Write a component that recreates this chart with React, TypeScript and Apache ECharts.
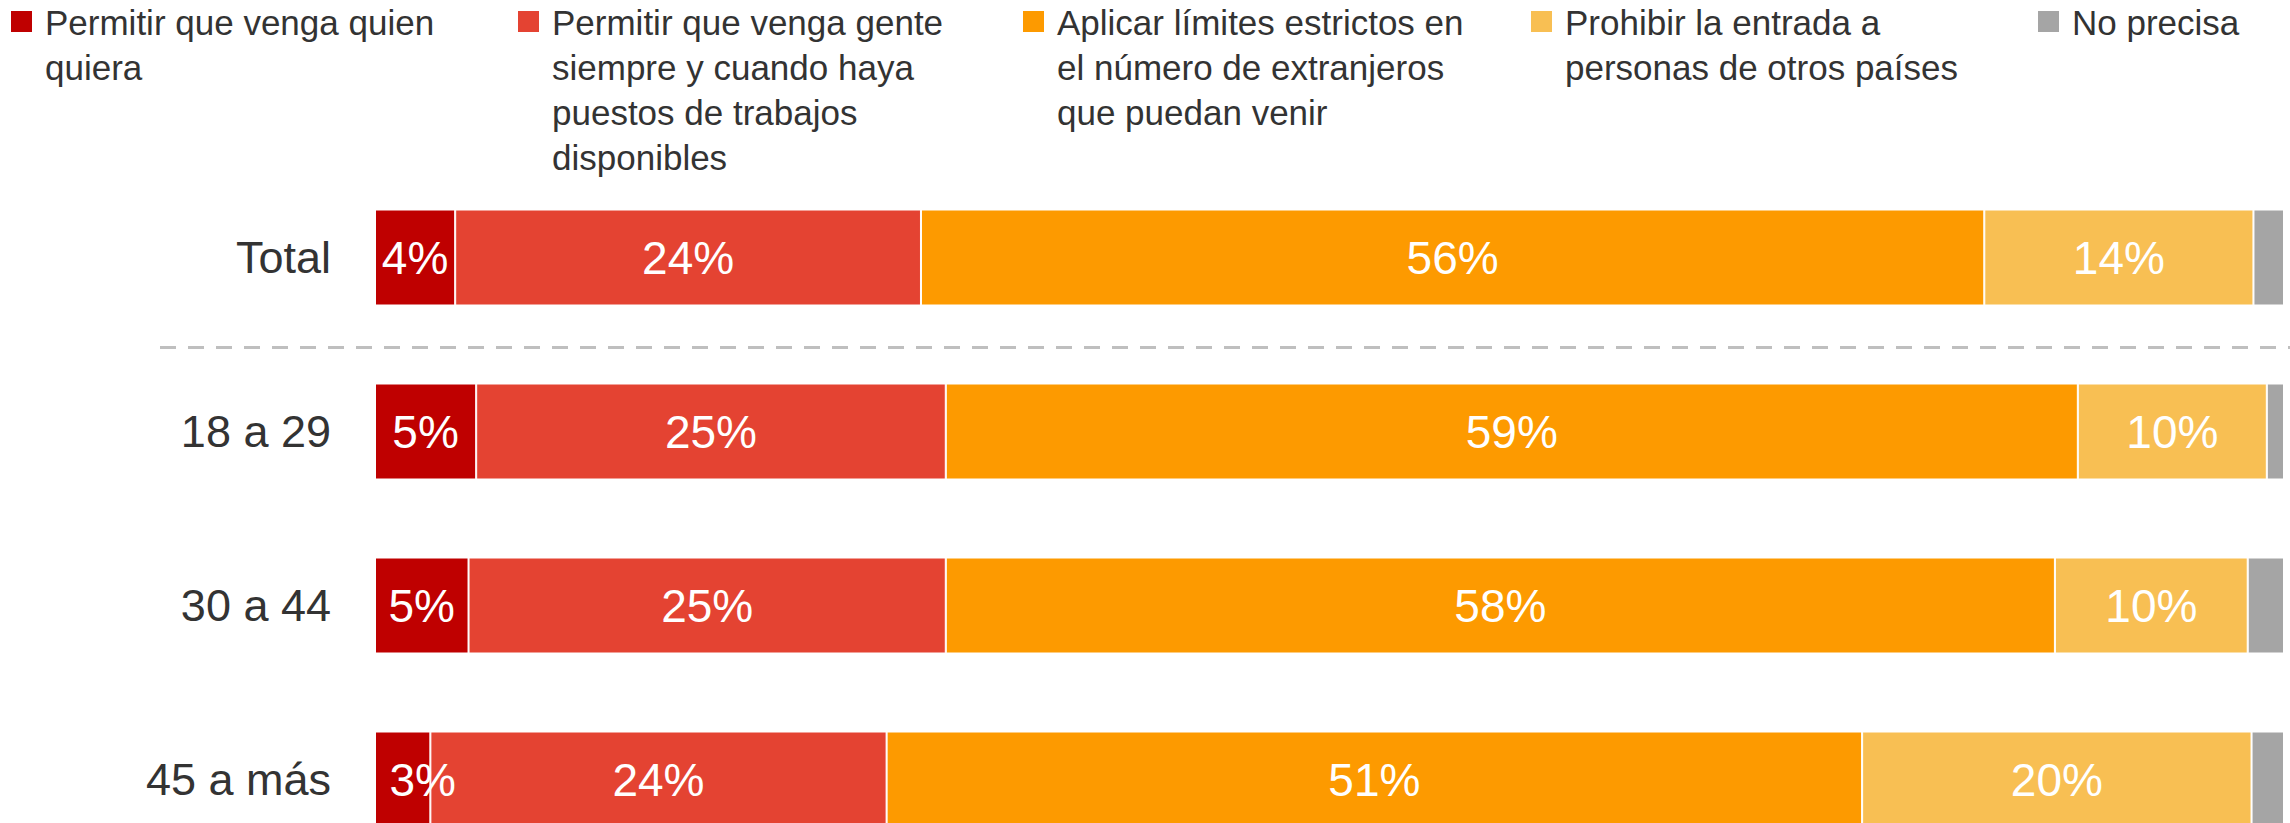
import React, { useEffect, useRef } from "react";
import * as echarts from "echarts";

const categories = ["Total", "18 a 29", "30 a 44", "45 a más"];
const seriesNames = [
  "Permitir que venga quien quiera",
  "Permitir que venga gente siempre y cuando haya puestos de trabajos disponibles",
  "Aplicar límites estrictos en el número de extranjeros que puedan venir",
  "Prohibir la entrada a personas de otros países",
  "No precisa",
];
const legendLines = [
  "Permitir que venga quien\nquiera",
  "Permitir que venga gente\nsiempre y cuando haya\npuestos de trabajos\ndisponibles",
  "Aplicar límites estrictos en\nel número de extranjeros\nque puedan venir",
  "Prohibir la entrada a\npersonas de otros países",
  "No precisa",
];
const quienQuiera = [4.2, 5.3, 4.9, 2.9];
const siHayTrabajo = [24.4, 24.6, 25.0, 23.9];
const limites = [55.7, 59.3, 58.1, 51.1];
const prohibir = [14.1, 9.9, 10.1, 20.4];
const noPrecisa = [1.6, 0.9, 1.9, 1.7];
const seriesValues = [quienQuiera, siHayTrabajo, limites, prohibir, noPrecisa];
const colors = ["#bf0000", "#e44332", "#fd9a00", "#f8bf53", "#a5a5a5"];
const legendX = [11, 518, 1023, 1531, 2038];

const FONT = "'Liberation Sans', Arial, sans-serif";

export default function App() {
  const ref = useRef<HTMLDivElement>(null);
  useEffect(() => {
    document.body.style.margin = "0";
    const chart = echarts.init(ref.current!, undefined, { renderer: "svg" });
    const series = seriesValues.map((vals, si) => ({
      name: seriesNames[si],
      type: "bar",
      stack: "all",
      barWidth: 96,
      itemStyle: { color: colors[si], borderColor: "#ffffff", borderWidth: 1 },
      label: {
        show: si < 4,
        position: "inside",
        color: "#ffffff",
        fontSize: 46,
        fontFamily: FONT,
        formatter: (p: any) => Math.round(p.value) + "%",
      },
      data: vals.map((v) => {
        if (si === 0 && v < 4) {
          return { value: v, label: { offset: [20, 0] } };
        }
        return v;
      }),
    }));
    const graphic: any[] = [];
    legendLines.forEach((t, i) => {
      graphic.push({
        type: "rect",
        left: legendX[i],
        top: 11,
        shape: { width: 21, height: 21 },
        style: { fill: colors[i] },
      });
      graphic.push({
        type: "text",
        left: legendX[i] + 34,
        top: 0,
        style: {
          text: t,
          fontSize: 35,
          lineHeight: 45,
          fontFamily: FONT,
          fill: "#333333",
        },
      });
    });
    graphic.push({
      type: "line",
      shape: { x1: 160, y1: 347.5, x2: 2290, y2: 347.5 },
      style: { stroke: "#bfbfbf", lineWidth: 3, lineDash: [16, 12] },
    });
    chart.setOption({
      animation: false,
      grid: { left: 375, right: 6, top: 170.5, bottom: 3.5 },
      xAxis: { type: "value", min: 0, max: 100, show: false },
      yAxis: {
        type: "category",
        data: categories,
        inverse: true,
        axisLine: { show: false },
        axisTick: { show: false },
        axisLabel: { fontSize: 45, color: "#333333", margin: 44, fontFamily: FONT },
      },
      series,
      graphic,
    });
    return () => chart.dispose();
  }, []);
  return (
    <div style={{ width: 2290, height: 823, overflow: "hidden" }}>
      <div ref={ref} style={{ width: 2290, height: 870 }} />
    </div>
  );
}
